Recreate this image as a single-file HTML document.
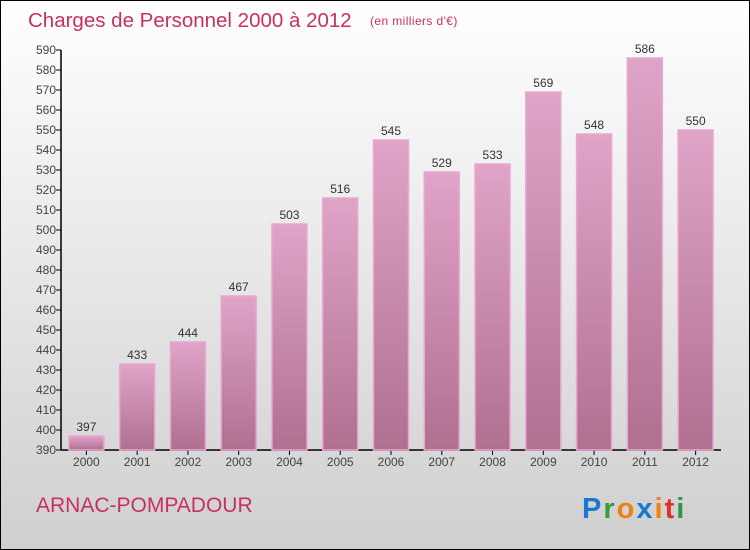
<!DOCTYPE html>
<html><head><meta charset="utf-8"><style>
html,body{margin:0;padding:0}
body{width:750px;height:550px;overflow:hidden;font-family:"Liberation Sans",sans-serif}
#wrap{position:absolute;left:0;top:0;width:748px;height:548px;border:1px solid #000;background:linear-gradient(#ffffff,#cfcfcf)}
</style></head><body>
<div id="wrap">
<svg id="chart" width="750" height="550" style="position:absolute;left:-1px;top:-1px">
<defs>
<linearGradient id="bg" x1="0" y1="0" x2="0" y2="1"><stop offset="0" stop-color="#e0a4c8"/><stop offset="1" stop-color="#b07090"/></linearGradient>
</defs>
<text x="28" y="27" font-size="20.5" fill="#c8305e">Charges de Personnel 2000 à 2012</text>
<text x="370" y="25" font-size="12" letter-spacing="0.4" fill="#c8305e">(en milliers d'€)</text>
<text x="36" y="512" font-size="21" fill="#c8305e">ARNAC-POMPADOUR</text>
<g font-size="29" font-weight="bold" font-family="'Liberation Sans',sans-serif">
<text x="582" y="518" letter-spacing="2"><tspan fill="#1a78d0">P</tspan><tspan fill="#3a9a3a">r</tspan><tspan fill="#f08010">o</tspan><tspan fill="#1a78d0">x</tspan><tspan fill="#f08010">i</tspan><tspan fill="#e03020">t</tspan><tspan fill="#2a9a40">i</tspan></text>
</g>
<g id="axes"></g>
<g id="bars"></g>
</svg>
</div>
<script>
const years=["2000","2001","2002","2003","2004","2005","2006","2007","2008","2009","2010","2011","2012"];
const values=[397,433,444,467,503,516,545,529,533,569,548,586,550];
const yTicks=[390,400,410,420,430,440,450,460,470,480,490,500,510,520,530,540,550,560,570,580,590];
const NS="http://www.w3.org/2000/svg";
const x0=61,x1=721,yTop=50,yBot=450,vMin=390,vMax=590;
const slot=(x1-x0)/years.length;
function yS(v){return yBot-(v-vMin)/(vMax-vMin)*(yBot-yTop);}
function xS(i){return x0+slot*i;}
function mk(t,a,p){const e=document.createElementNS(NS,t);for(const k in a)e.setAttribute(k,a[k]);p.appendChild(e);return e;}
const ax=document.getElementById('axes'),bg=document.getElementById('bars');
const yl=mk('line',{x1:x0,y1:yTop,x2:x0,y2:yBot,stroke:'#000','stroke-width':1.5},ax);


const xl=mk('line',{x1:x0,y1:yBot,x2:x1,y2:yBot,stroke:'#000','stroke-width':1.5},ax);


yTicks.forEach(v=>{
 const y=yS(v);
 mk('line',{x1:x0-5,y1:y,x2:x0,y2:y,stroke:'#000'},ax);
 const t=mk('text',{x:x0-5,y:y+4,'text-anchor':'end','font-size':12,fill:'#444'},ax);
 t.textContent=v;
 
 
});
years.forEach((yr,i)=>{
 const cx=xS(i)+slot/2;
 mk('line',{x1:cx,y1:yBot,x2:cx,y2:yBot+5,stroke:'#000'},ax);
 const t=mk('text',{x:cx,y:yBot+16,'text-anchor':'middle','font-size':12,fill:'#444'},ax);
 t.textContent=yr;
 
 
 const v=values[i],y=yS(v),w=35;
 const r=mk('rect',{x:cx-w/2,y:y,width:w,height:yBot-y,fill:'url(#bg)',stroke:'#e8a8d0','stroke-width':1.5},bg);
 
 
 const l=mk('text',{x:cx,y:y-5,'text-anchor':'middle','font-size':12,fill:'#333'},bg);
 l.textContent=v;
 
 
});
</script>
</body></html>
